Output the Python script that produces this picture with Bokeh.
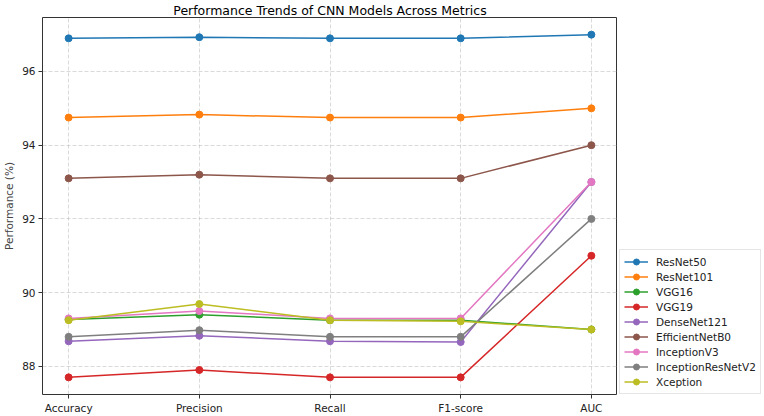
from bokeh.plotting import figure
from bokeh.layouts import row
from bokeh.models import (Range1d, FixedTicker, Legend, LegendItem, ColumnDataSource)
from bokeh.embed import file_html
from bokeh.resources import INLINE

# Metrics on the x axis
metrics = ["Accuracy", "Precision", "Recall", "F1-score", "AUC"]

# Scores (%) for each model, one value per metric
models = ["ResNet50", "ResNet101", "VGG16", "VGG19", "DenseNet121",
          "EfficientNetB0", "InceptionV3", "InceptionResNetV2", "Xception"]
resnet50 = [96.9, 96.93, 96.9, 96.9, 97.0]
resnet101 = [94.75, 94.83, 94.75, 94.75, 95.0]
vgg16 = [89.27, 89.4, 89.25, 89.25, 89.0]
vgg19 = [87.7, 87.9, 87.7, 87.7, 91.0]
densenet121 = [88.68, 88.83, 88.68, 88.66, 93.0]
efficientnetb0 = [93.1, 93.2, 93.1, 93.1, 94.0]
inceptionv3 = [89.3, 89.5, 89.3, 89.3, 93.0]
inceptionresnetv2 = [88.8, 88.98, 88.8, 88.8, 92.0]
xception = [89.25, 89.69, 89.25, 89.22, 89.0]

series = [resnet50, resnet101, vgg16, vgg19, densenet121,
          efficientnetb0, inceptionv3, inceptionresnetv2, xception]
colors = ["#1f77b4", "#ff7f0e", "#2ca02c", "#d62728", "#9467bd",
          "#8c564b", "#e377c2", "#7f7f7f", "#bcbd22"]
y_ticks = [88, 90, 92, 94, 96]

FONT = "DejaVu Sans"

xs = list(range(len(metrics)))
all_vals = [v for s in series for v in s]
lo, hi = min(all_vals), max(all_vals)
pad = (hi - lo) * 0.05

# Main chart
p = figure(width=617, height=416, output_backend="svg", toolbar_location=None,
           x_range=Range1d(-0.2, len(metrics) - 1 + 0.2),
           y_range=Range1d(lo - pad, hi + pad),
           title="Performance Trends of CNN Models Across Metrics",
           min_border_left=37, min_border_right=0,
           min_border_top=14, min_border_bottom=19)

p.title.align = "center"
p.title.text_font = FONT
p.title.text_font_size = "12.5px"
p.title.text_font_style = "normal"
p.title.text_color = "black"
p.title.standoff = 0
p.title.offset = 0

p.background_fill_color = "white"
p.border_fill_color = "white"
p.outline_line_color = "#333333"
p.outline_line_width = 1

p.xaxis.ticker = FixedTicker(ticks=xs)
p.xaxis.major_label_overrides = {i: m for i, m in enumerate(metrics)}
p.yaxis.ticker = FixedTicker(ticks=y_ticks)
p.yaxis.axis_label = "Performance (%)"

for ax in (p.xaxis[0], p.yaxis[0]):
    ax.axis_line_color = None
    ax.major_tick_line_color = "#333333"
    ax.major_tick_out = 4
    ax.major_tick_in = 0
    ax.minor_tick_line_color = None
    ax.major_label_text_font = FONT
    ax.major_label_text_font_size = "10.5px"
    ax.major_label_text_color = "#222222"
    ax.major_label_standoff = 3
p.yaxis.axis_label_text_font = FONT
p.yaxis.axis_label_text_font_size = "10.5px"
p.yaxis.axis_label_text_font_style = "normal"
p.yaxis.axis_label_standoff = 4

for g in (p.xgrid[0], p.ygrid[0]):
    g.grid_line_color = "#b0b0b0"
    g.grid_line_alpha = 0.6
    g.grid_line_dash = "4 2"
    g.grid_line_width = 0.8

for vals, col in zip(series, colors):
    src = ColumnDataSource(data=dict(x=xs, y=vals))
    p.line("x", "y", source=src, line_color=col, line_width=1.5)
    p.scatter("x", "y", source=src, size=7, fill_color=col, line_color=col)

# Legend panel to the right of the chart
lp = figure(width=147, height=416, output_backend="svg", toolbar_location=None,
            x_range=Range1d(0, 1), y_range=Range1d(0, 1),
            min_border_left=0, min_border_right=0,
            min_border_top=0, min_border_bottom=0)
lp.axis.visible = False
lp.grid.visible = False
lp.outline_line_color = None
lp.background_fill_color = "white"
lp.border_fill_color = "white"

# Swatch renderers for the legend (NaN points are never drawn in the panel)
nan = float("nan")
items = []
for name, col in zip(models, colors):
    ln = lp.line(x=[nan, nan], y=[nan, nan], line_color=col, line_width=1.5)
    sc = lp.scatter(x=[nan], y=[nan], size=7, fill_color=col, line_color=col)
    items.append(LegendItem(label=name, renderers=[ln, sc]))

legend = Legend(items=items, location=(2, 0))
legend.label_text_font = FONT
legend.label_text_font_size = "10.5px"
legend.label_text_color = "#222222"
legend.label_height = 15
legend.glyph_height = 15
legend.glyph_width = 24
legend.label_standoff = 8
legend.spacing = 0
legend.padding = 4
legend.margin = 0
legend.border_line_color = "#cccccc"
legend.border_line_width = 1
legend.background_fill_alpha = 0.9
lp.add_layout(legend, "center")

layout = row(p, lp)
open("out.html", "w").write(file_html(layout, INLINE))
